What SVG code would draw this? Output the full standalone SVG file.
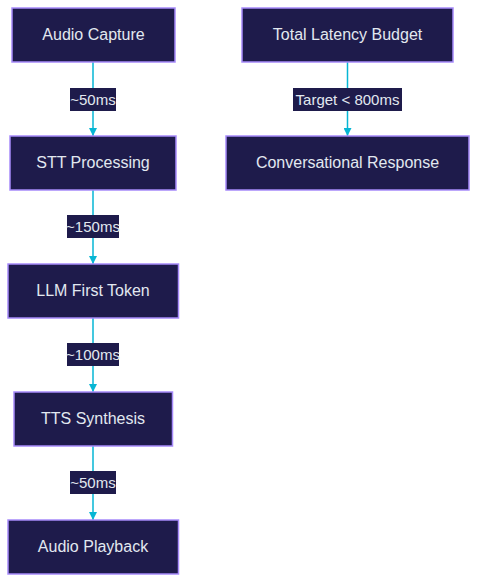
<svg xmlns="http://www.w3.org/2000/svg" width="477" height="582" viewBox="0 0 477 582">
<defs>
<style>
.node rect{fill:#1e1b4b;stroke:#a78bfa;stroke-width:1.5}
.node text,.lbl text{font-family:"Liberation Sans",Arial,sans-serif;font-size:16px;fill:#e2e8f0;text-anchor:middle;dominant-baseline:central}
.lbl text{font-size:15px}
.edge{stroke:#06b6d4;stroke-width:1.5;fill:none;marker-end:url(#arr)}
.lbl rect{fill:#1e1b4b}
</style>
<marker id="arr" viewBox="0 0 10 10" refX="10" refY="5" markerWidth="8" markerHeight="8" markerUnits="userSpaceOnUse" orient="auto">
<path d="M0,0 L10,5 L0,10 z" fill="#06b6d4"/>
</marker>
</defs>
<rect width="477" height="582" fill="#ffffff"/>
<g id="connectors">
<line class="edge" x1="93" y1="62" x2="93" y2="136"/>
<line class="edge" x1="93" y1="190" x2="93" y2="264"/>
<line class="edge" x1="93" y1="318" x2="93" y2="392"/>
<line class="edge" x1="93" y1="446" x2="93" y2="520"/>
<line class="edge" x1="347.5" y1="62" x2="347.5" y2="136"/>
<g class="lbl"><rect x="70" y="88" width="46" height="23"/><text x="93" y="99">~50ms</text></g>
<g class="lbl"><rect x="67" y="215" width="52" height="23"/><text x="93" y="226">~150ms</text></g>
<g class="lbl"><rect x="67" y="343" width="52" height="23"/><text x="93" y="354">~100ms</text></g>
<g class="lbl"><rect x="70" y="471" width="46" height="23"/><text x="93" y="482">~50ms</text></g>
<g class="lbl"><rect x="293" y="88" width="109" height="23"/><text x="347.5" y="99">Target &lt; 800ms</text></g>
</g>
<g id="audio_capture" class="node"><rect x="12" y="8" width="163" height="54"/><text x="93.5" y="34">Audio Capture</text></g>
<g id="stt" class="node"><rect x="10" y="136" width="166" height="54"/><text x="93" y="162">STT Processing</text></g>
<g id="llm" class="node"><rect x="8" y="264" width="170.5" height="54"/><text x="93" y="290">LLM First Token</text></g>
<g id="tts" class="node"><rect x="14" y="392" width="158.5" height="54"/><text x="93" y="418">TTS Synthesis</text></g>
<g id="playback" class="node"><rect x="8" y="520" width="170.5" height="54"/><text x="93" y="546">Audio Playback</text></g>
<g id="budget" class="node"><rect x="242" y="8" width="211" height="54"/><text x="347.5" y="34">Total Latency Budget</text></g>
<g id="response" class="node"><rect x="226" y="136" width="243" height="54"/><text x="347.5" y="162">Conversational Response</text></g>
</svg>
